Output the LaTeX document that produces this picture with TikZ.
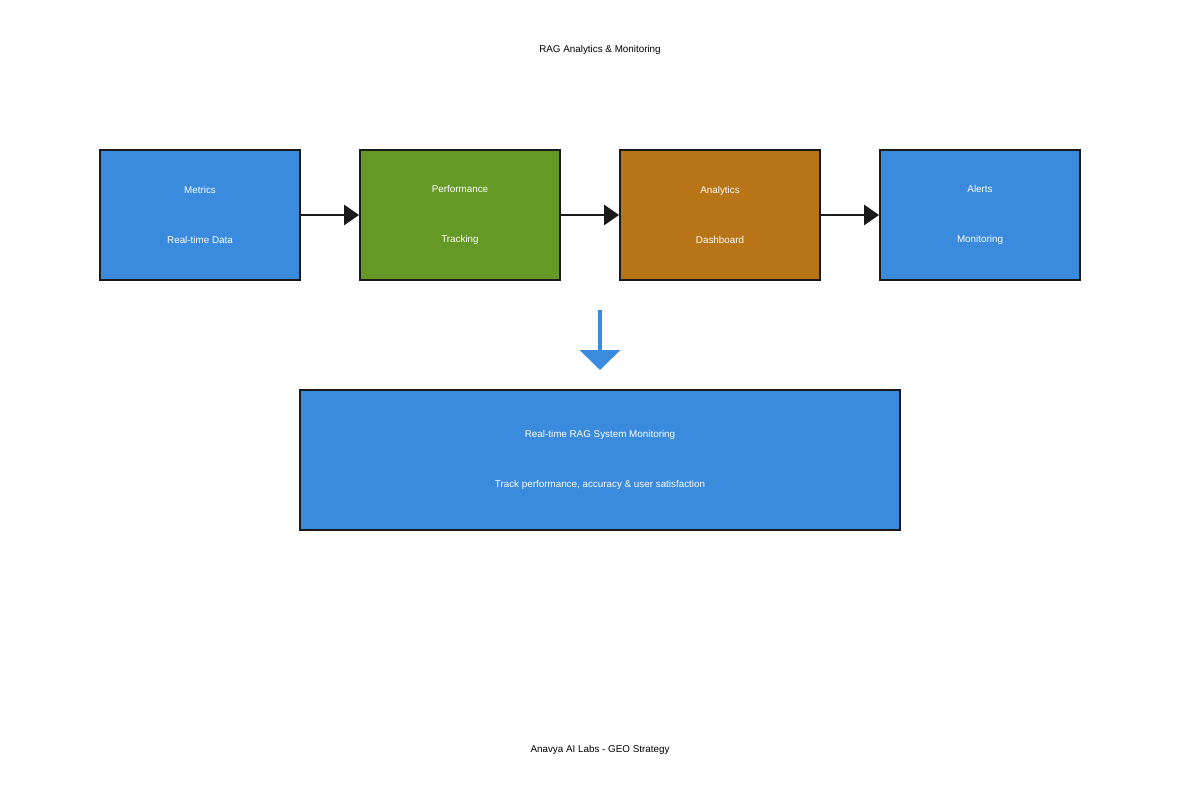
\documentclass[tikz,border=0pt]{standalone}
\usepackage{fontspec}
\setmainfont{Liberation Sans}
\usepackage{tikz}
\usetikzlibrary{arrows.meta}
\definecolor{boxblue}{HTML}{3A8ADE}
\definecolor{boxgreen}{HTML}{659925}
\definecolor{boxorange}{HTML}{B87518}
\definecolor{edgegray}{HTML}{1A1A1A}
\tikzset{
  stage/.style={
    rectangle,
    draw=edgegray, line width=1.1pt,
    minimum width=4cm,
    minimum height=2.6cm,
    text=white,
    align=center,
    font=\fontsize{5.6}{28.45}\selectfont},
  summary/.style={
    stage,
    fill=boxblue,
    minimum width=12cm,
    minimum height=2.8cm},
  flow/.style={draw=edgegray, line width=1.7pt, -{Triangle[length=0.3cm,width=0.4cm]}},
  bigflow/.style={draw=boxblue, line width=2.2pt, -{Triangle[length=0.4cm,width=0.8cm]}},
  caption/.style={font=\fontsize{5.6}{7}\selectfont, text=black},
}
\begin{document}
\begin{tikzpicture}[x=0.02cm, y=-0.02cm]
\useasboundingbox (0,0) rectangle (1200,800);
\node[caption] (title) at (600,50) {RAG Analytics \& Monitoring};
% four stages in a row
\foreach \x/\nm/\col/\txt in {200/met/boxblue/Metrics\\Real-time Data,
    460/perf/boxgreen/Performance\\Tracking,
    720/ana/boxorange/Analytics\\Dashboard,
    980/alert/boxblue/Alerts\\Monitoring}{
  \node[stage, fill=\col] (\nm) at (\x,215) {\txt};
}
\draw[flow] (met) -- (perf);
\draw[flow] (perf) -- (ana);
\draw[flow] (ana) -- (alert);
\coordinate (drop) at (600,310);
\coordinate (droptip) at (600,370);
\draw[bigflow] (drop) -- (droptip);
\node[summary] (sys) at (600,460) {Real-time RAG System Monitoring\\Track performance, accuracy \& user satisfaction};
\node[caption] (foot) at (600,750) {Anavya AI Labs - GEO Strategy};
\end{tikzpicture}
\end{document}
